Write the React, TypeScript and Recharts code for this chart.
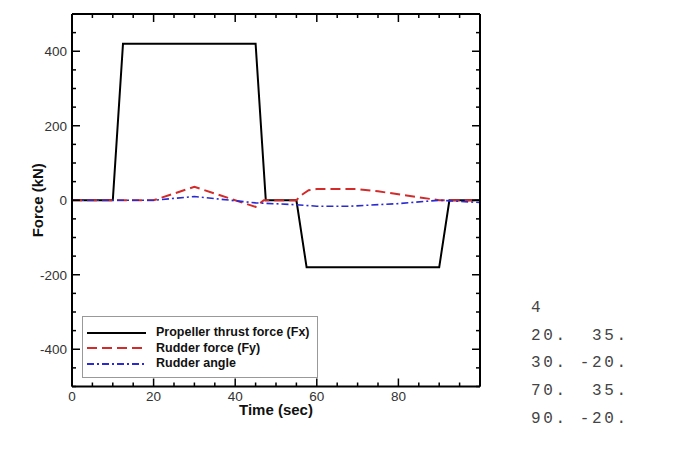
import { Legend, Line, LineChart, XAxis, YAxis } from 'recharts';

// thrust (Fx), rudder force (Fy) and rudder angle
const FX_TIME = [0, 10, 12.5, 45, 47.5, 55, 57.5, 90, 92.5, 100];
const FX_FORCE = [0, 0, 420, 420, 0, 0, -180, -180, 0, 0];

const FY_TIME = [0, 20, 30, 45, 47, 55, 56, 58, 60, 70, 75, 90, 100];
const FY_FORCE = [0, 0, 36, -18, 0, 0, 12, 27, 30, 30, 24, 0, 0];

const ANGLE_TIME = [0, 20, 30, 45, 55, 60, 68, 80, 90, 100];
const ANGLE_VALUE = [0, 0, 10, -7, -12, -16, -16, -9, 0, -6];

const X_TICKS = [0, 5, 10, 15, 20, 25, 30, 35, 40, 45, 50, 55, 60, 65, 70, 75, 80, 85, 90, 95, 100];
const X_LABELS = [0, 20, 40, 60, 80];
const Y_TICKS = [
  -500, -450, -400, -350, -300, -250, -200, -150, -100, -50, 0, 50, 100, 150, 200, 250, 300, 350, 400, 450, 500,
];
const Y_LABELS = [-400, -200, 0, 200, 400];

// rudder table printed beside the plot
const TABLE_LINES = ['4', '20.  35.', '30. -20.', '70.  35.', '90. -20.'];

const SERIES = [
  { name: 'Propeller thrust force (Fx)', color: '#000000', dash: undefined, width: 2 },
  { name: 'Rudder force (Fy)', color: '#d42a2a', dash: '10 5', width: 2 },
  { name: 'Rudder angle', color: '#2a2ad0', dash: '7 3 2 3', width: 1.6 },
];

const toRows = (xs: number[], ys: number[]) => xs.map((t, i) => ({ t, v: ys[i] }));

const fxData = toRows(FX_TIME, FX_FORCE);
const fyData = toRows(FY_TIME, FY_FORCE);
const angleData = toRows(ANGLE_TIME, ANGLE_VALUE);

const FONT = '"Liberation Sans", Arial, sans-serif';
const LABEL_GAP = 5;
const MAJOR = 8;
const MINOR = 4;

function BottomTick({ x, y, payload }: any) {
  const v = payload.value;
  const base = y - LABEL_GAP;
  const len = v % 20 === 0 ? MAJOR : MINOR;
  return (
    <g>
      <line x1={x} x2={x} y1={base} y2={base - len} stroke="#000" strokeWidth={1.5} />
      {X_LABELS.includes(v) && (
        <text x={x} y={y} dy="0.71em" textAnchor="middle" fontSize={13.5} fill="#333" fontFamily={FONT}>
          {v}
        </text>
      )}
    </g>
  );
}

function TopTick({ x, y, payload }: any) {
  const len = payload.value % 20 === 0 ? MAJOR : MINOR;
  return <line x1={x} x2={x} y1={y} y2={y + len} stroke="#000" strokeWidth={1.5} />;
}

function LeftTick({ x, y, payload }: any) {
  const v = payload.value;
  const base = x + LABEL_GAP;
  const len = v % 200 === 0 ? MAJOR : MINOR;
  return (
    <g>
      <line x1={base} x2={base + len} y1={y} y2={y} stroke="#000" strokeWidth={1.5} />
      {Y_LABELS.includes(v) && (
        <text x={x} y={y} dy="0.355em" textAnchor="end" fontSize={13.5} fill="#333" fontFamily={FONT}>
          {v}
        </text>
      )}
    </g>
  );
}

function RightTick({ x, y, payload }: any) {
  const len = payload.value % 200 === 0 ? MAJOR : MINOR;
  return <line x1={x} x2={x - len} y1={y} y2={y} stroke="#000" strokeWidth={1.5} />;
}

function LegendBox({ payload }: any) {
  const entries = [...(payload ?? [])].sort(
    (a: any, b: any) =>
      SERIES.findIndex((d) => d.name === a.value) - SERIES.findIndex((d) => d.name === b.value),
  );
  return (
    <div style={{ padding: '8px 0 0 4px', fontFamily: FONT }}>
      {entries.map((entry: any) => {
        const s = SERIES.find((d) => d.name === entry.value);
        return (
          <div key={entry.value} style={{ display: 'flex', alignItems: 'center', height: 15.5 }}>
            <svg width={59} height={8} style={{ display: 'block' }}>
              <line
                x1={0}
                x2={59}
                y1={4}
                y2={4}
                stroke={s?.color ?? entry.color}
                strokeWidth={2}
                strokeDasharray={s?.dash}
              />
            </svg>
            <span style={{ marginLeft: 10, fontSize: 12.5, fontWeight: 'bold', color: '#111', lineHeight: '15px' }}>
              {entry.value}
            </span>
          </div>
        );
      })}
    </div>
  );
}

export default function App() {
  return (
    <div style={{ position: 'absolute', left: 0, top: 0, width: 676, height: 449, background: '#fff' }}>
      <LineChart width={676} height={449} margin={{ top: 13, right: 195, bottom: 16.5, left: 4 }}>
        <XAxis
          xAxisId="b"
          dataKey="t"
          type="number"
          domain={[0, 100]}
          allowDataOverflow
          ticks={X_TICKS}
          interval={0}
          height={46}
          tickSize={0}
          tickMargin={LABEL_GAP}
          tickLine={false}
          tick={<BottomTick />}
          axisLine={{ stroke: '#000', strokeWidth: 2 }}
          label={{ value: 'Time (sec)', position: 'center', fontSize: 15, fontWeight: 'bold', fill: '#111', fontFamily: FONT }}
        />
        <XAxis
          xAxisId="t"
          orientation="top"
          dataKey="t"
          type="number"
          domain={[0, 100]}
          allowDataOverflow
          ticks={X_TICKS}
          interval={0}
          height={1}
          tickSize={0}
          tickMargin={0}
          tickLine={false}
          tick={<TopTick />}
          axisLine={{ stroke: '#000', strokeWidth: 2 }}
        />
        <YAxis
          yAxisId="l"
          type="number"
          domain={[-500, 500]}
          allowDataOverflow
          ticks={Y_TICKS}
          interval={0}
          width={68}
          tickSize={0}
          tickMargin={LABEL_GAP}
          tickLine={false}
          tick={<LeftTick />}
          axisLine={{ stroke: '#000', strokeWidth: 2 }}
          label={{
            value: 'Force (kN)',
            angle: -90,
            position: 'center',
            fontSize: 15,
            fontWeight: 'bold',
            fill: '#111',
            fontFamily: FONT,
          }}
        />
        <YAxis
          yAxisId="r"
          orientation="right"
          type="number"
          domain={[-500, 500]}
          allowDataOverflow
          ticks={Y_TICKS}
          interval={0}
          width={1}
          tickSize={0}
          tickMargin={0}
          tickLine={false}
          tick={<RightTick />}
          axisLine={{ stroke: '#000', strokeWidth: 2 }}
        />
        <Line
          xAxisId="b"
          yAxisId="l"
          data={fxData}
          dataKey="v"
          name={SERIES[0].name}
          stroke={SERIES[0].color}
          strokeWidth={SERIES[0].width}
          dot={false}
          activeDot={false}
          type="linear"
          isAnimationActive={false}
        />
        <Line
          xAxisId="b"
          yAxisId="l"
          data={fyData}
          dataKey="v"
          name={SERIES[1].name}
          stroke={SERIES[1].color}
          strokeWidth={SERIES[1].width}
          strokeDasharray={SERIES[1].dash}
          dot={false}
          activeDot={false}
          type="linear"
          isAnimationActive={false}
        />
        <Line
          xAxisId="b"
          yAxisId="l"
          data={angleData}
          dataKey="v"
          name={SERIES[2].name}
          stroke={SERIES[2].color}
          strokeWidth={SERIES[2].width}
          strokeDasharray={SERIES[2].dash}
          dot={false}
          activeDot={false}
          type="linear"
          isAnimationActive={false}
        />
        <Legend
          layout="vertical"
          align="center"
          verticalAlign="middle"
          content={<LegendBox />}
          wrapperStyle={{
            left: 82,
            top: 316,
            width: 236,
            height: 62,
            boxSizing: 'border-box',
            border: '1.5px solid #999',
            background: '#fff',
          }}
        />
      </LineChart>
      <div
        style={{
          position: 'absolute',
          left: 531,
          top: 295,
          fontFamily: '"Liberation Mono", "Courier New", monospace',
          fontSize: 16,
          letterSpacing: 2.6,
          lineHeight: '27.7px',
          color: '#444',
          whiteSpace: 'pre',
        }}
      >
        {TABLE_LINES.map((line) => (
          <div key={line}>{line}</div>
        ))}
      </div>
    </div>
  );
}
